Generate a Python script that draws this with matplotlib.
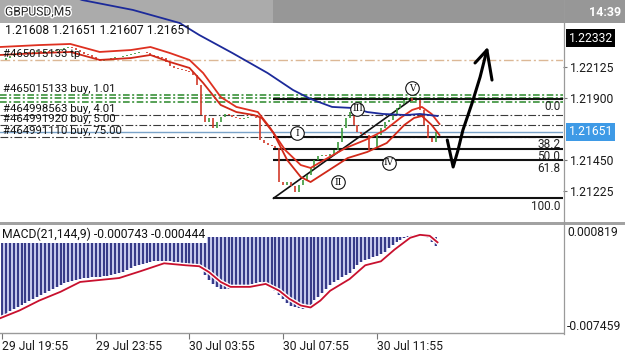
import matplotlib
matplotlib.use("Agg")
import matplotlib.pyplot as plt
import matplotlib.patheffects as pe
from matplotlib.patches import Rectangle
from matplotlib.lines import Line2D

plt.rcParams['font.family'] = ['Roboto', 'DejaVu Sans']

# ---------------- data ----------------
symbol = "GBPUSD,M5"
clock = "14:39"
ohlc_text = "1.21608 1.21651 1.21607 1.21651"

# M5 bar index counted from 29 Jul 19:55 (one candle drawn every 2 bars)
candle_bars = list(range(0, 224, 2))
closes = [1.22174, 1.22188, 1.22203, 1.22217, 1.22224, 1.22224, 1.22232, 1.22224,
          1.22232, 1.22239, 1.22232, 1.22239, 1.22232, 1.22239, 1.22246, 1.22253,
          1.22261, 1.22268, 1.22261, 1.22246, 1.22232, 1.22217, 1.22210, 1.22195,
          1.22181, 1.22166, 1.22174, 1.22181, 1.22188, 1.22195, 1.22195, 1.22203,
          1.22210, 1.22217, 1.22224, 1.22232, 1.22232, 1.22224, 1.22210, 1.22203,
          1.22195, 1.22188, 1.22159, 1.22130, 1.22116, 1.22108, 1.22101, 1.22094,
          1.22087, 1.22065, 1.21992, 1.21774, 1.21724, 1.21753, 1.21680, 1.21724,
          1.21760, 1.21782, 1.21774, 1.21760, 1.21753, 1.21745, 1.21753, 1.21760,
          1.21760, 1.21753, 1.21593, 1.21571, 1.21557, 1.21549, 1.21535, 1.21288,
          1.21266, 1.21288, 1.21259, 1.21215, 1.21266, 1.21303, 1.21339, 1.21390,
          1.21448, 1.21477, 1.21484, 1.21477, 1.21491, 1.21520, 1.21578, 1.21680,
          1.21753, 1.21796, 1.21702, 1.21651, 1.21636, 1.21629, 1.21520, 1.21535,
          1.21629, 1.21680, 1.21724, 1.21738, 1.21774, 1.21825, 1.21854, 1.21883,
          1.21898, 1.21876, 1.21883, 1.21811, 1.21702, 1.21607, 1.21578, 1.21651]

upper_bars = [-1, 19, 35, 50, 66, 76, 86, 96, 103, 112, 120, 131, 137, 145, 153, 158,
              165, 176, 186, 196, 204, 210, 215, 220, 224]
upper_band = [1.22268, 1.22282, 1.22290, 1.22232, 1.22246, 1.22268, 1.22224, 1.22174,
              1.22079, 1.21905, 1.21833, 1.21796, 1.21687, 1.21520, 1.21411, 1.21390,
              1.21448, 1.21535, 1.21593, 1.21664, 1.21753, 1.21811, 1.21833, 1.21782,
              1.21709]
lower_bars = [-1, 19, 35, 50, 66, 76, 86, 96, 103, 112, 120, 129, 133, 139, 146, 153,
              158, 166, 177, 187, 197, 206, 211, 215, 220, 224]
lower_band = [1.22210, 1.22224, 1.22232, 1.22174, 1.22188, 1.22210, 1.22159, 1.22116,
              1.22007, 1.21847, 1.21796, 1.21774, 1.21753, 1.21644, 1.21448, 1.21324,
              1.21288, 1.21361, 1.21462, 1.21506, 1.21571, 1.21702, 1.21753, 1.21767,
              1.21702, 1.21629]

ma_bars = [25, 41, 67, 91, 101, 118, 136, 149, 158, 169, 180, 187, 195, 207, 214, 223]
ma_vals = [1.22696, 1.22609, 1.22537, 1.22442, 1.22355, 1.22224, 1.22079, 1.21956,
           1.21891, 1.21833, 1.21825, 1.21796, 1.21782, 1.21774, 1.21782, 1.21767]

price_ticks = [1.22125, 1.21900, 1.21450, 1.21225]
bid_price = 1.21651
target_price = 1.22332

# Fibonacci retracement
fib_low_bar, fib_low = 139, 1.21170
fib_high_bar, fib_high = 210, 1.21890
fib_levels = [0.0, 38.2, 50.0, 61.8, 100.0, 161.8, 200.0]
fib_texts = ["0.0", "38.2", "50.0", "61.8", "100.0", "161.8", "200"]

# order lines
tp_price = 1.22174
green_levels = [1.21920, 1.21896, 1.21872]
order_levels = [1.21774, 1.21702, 1.21615]
order_labels = ["#465015133 tp", "#465015133 buy, 1.01", "#464998563 buy, 4.01",
                "#464991920 buy, 5.00", "#464991110 buy, 75.00"]
order_label_prices = [tp_price, green_levels[0], order_levels[0], order_levels[1],
                      order_levels[2]]

# Elliott wave labels
wave_labels = ["I", "II", "III", "IV", "V"]
wave_bars = [151, 172, 182, 198, 210]
wave_prices = [1.21643, 1.21288, 1.21818, 1.21426, 1.21970]

# hand drawn arrow
arrow_bars = [228, 231, 233.5, 236, 240.7, 244.8, 248.3]
arrow_prices = [1.21593, 1.21397, 1.21520, 1.21665, 1.21861, 1.22050, 1.22246]
head_bars = [242.2, 248.3, 250.9]
head_prices = [1.22152, 1.22246, 1.22028]

# MACD
macd_title = "MACD(21,144,9) -0.000743 -0.000444"
macd_main = [-0.006168, -0.006016, -0.005788, -0.005636, -0.005484, -0.005256, -0.005105,
             -0.004953, -0.004801, -0.004649, -0.004497, -0.004345, -0.004193, -0.004042,
             -0.003890, -0.003738, -0.003586, -0.003510, -0.003434, -0.003358, -0.003282,
             -0.003206, -0.003206, -0.003130, -0.003130, -0.003130, -0.003054, -0.003054,
             -0.002978, -0.002902, -0.002826, -0.002750, -0.002598, -0.002446, -0.002295,
             -0.002219, -0.002143, -0.002067, -0.001991, -0.001915, -0.001915, -0.001915,
             -0.001915, -0.001915, -0.001991, -0.001991, -0.002067, -0.002067, -0.002143,
             -0.002219, -0.002295, -0.002522, -0.002978, -0.003358, -0.003662, -0.003890,
             -0.004042, -0.004042, -0.004042, -0.004042, -0.003966, -0.003890, -0.003814,
             -0.003738, -0.003662, -0.003586, -0.003510, -0.003586, -0.003738, -0.003966,
             -0.004193, -0.004497, -0.004801, -0.005105, -0.005332, -0.005484, -0.005560,
             -0.005636, -0.005560, -0.005256, -0.004877, -0.004649, -0.004345, -0.004042,
             -0.003738, -0.003510, -0.003358, -0.003130, -0.002978, -0.002826, -0.002522,
             -0.002219, -0.001991, -0.001839, -0.001763, -0.001611, -0.001535, -0.001383,
             -0.001155, -0.000852, -0.000624, -0.000396, -0.000244, -0.000092, 0.000060,
             0.000136, 0.000211, 0.000211, 0.000136, -0.000092, -0.000396, -0.000743]
sig_bars = [-1, 9, 19, 30, 40, 50, 60, 71, 83, 94, 101, 106, 112, 117, 127, 135, 142,
            147, 153, 158, 163, 168, 178, 186, 194, 201, 209, 214, 219, 223]
sig_vals = [-0.006319, -0.005712, -0.004952, -0.004269, -0.003510, -0.003358, -0.003206,
            -0.002674, -0.002067, -0.002219, -0.002295, -0.002750, -0.003510, -0.003890,
            -0.003890, -0.003662, -0.004193, -0.004801, -0.005332, -0.005484, -0.004953,
            -0.004193, -0.003282, -0.002219, -0.001915, -0.001004, -0.000092, 0.000136,
            0.000060, -0.000444]
macd_max, macd_min = 0.000819, -0.007459

time_ticks = [0, 48, 96, 144, 192]
time_labels = ["29 Jul 19:55", "29 Jul 23:55", "30 Jul 03:55", "30 Jul 07:55",
               "30 Jul 11:55"]

# ---------------- figure ----------------
W, H = 625, 352
fig = plt.figure(figsize=(W / 100, H / 100), dpi=100)
fig.patch.set_facecolor("white")

XMIN, XMAX = -1.024, 287.25
ax = fig.add_axes([0, 1 - 221 / H, 563 / W, 221 / H])
ax.set_xlim(XMIN, XMAX)
ax.set_ylim(1.21005, 1.226091)
for s in ax.spines.values():
    s.set_visible(False)
ax.set_xticks([])
ax.yaxis.tick_right()
ax.set_yticks(price_ticks)
ax.set_yticklabels([f"{p:.5f}" for p in price_ticks])
ax.tick_params(axis="y", length=3, width=0.8, color="#777777", pad=2,
               labelsize=8.7, labelcolor="#1a1a1a")

# toolbar band (inside axes so the MA line can draw over it)
ax.add_patch(Rectangle((0, 1 - 23 / 221), 273 / 563, 23 / 221, transform=ax.transAxes,
                       facecolor="#ababab", edgecolor="none", zorder=0.5))
ax.add_patch(Rectangle((273 / 563, 1 - 23 / 221), 1 - 273 / 563, 23 / 221,
                       transform=ax.transAxes, facecolor="#979797", edgecolor="none",
                       zorder=0.5))
fig.add_artist(Rectangle((563 / W, 1 - 23 / H), 62 / W, 23 / H, transform=fig.transFigure,
                         facecolor="#979797", edgecolor="none", zorder=0.5))

dash = (0, (7, 2, 1.5, 2))
# order lines
ax.axhline(tp_price, color="#dcb896", lw=1.0, linestyle=dash, zorder=1)
for g in green_levels:
    ax.axhline(g, color="#3a913a", lw=1.2, linestyle=(0, (4, 1.5, 1.2, 1.5)), zorder=1)
for o in order_levels:
    ax.axhline(o, color="#3a3a3a", lw=0.8, linestyle=dash, zorder=1)
ax.axhline(bid_price, color="#7aa3c8", lw=1.0, zorder=1)
for txt, p in zip(order_labels, order_label_prices):
    ax.annotate(txt, xy=(XMIN, p), xytext=(2, 0.5), textcoords="offset points",
                fontsize=8.2, color="#111111", va="bottom", ha="left", zorder=4)

# fibonacci
fib_range = fib_high - fib_low
for lv, t in zip(fib_levels, fib_texts):
    p = fib_high - lv / 100.0 * fib_range
    if lv != 200.0:
        ax.hlines(p, fib_low_bar, XMAX, color="#111111", lw=1.5, zorder=2)
    ax.annotate(t, xy=(XMAX, p), xytext=(-2, -1), textcoords="offset points",
                fontsize=8.5, color="#222222", ha="right", va="top",
                annotation_clip=False, zorder=4)
ax.plot([fib_low_bar, fib_high_bar], [fib_low, fib_high], color="#111111", lw=1.2,
        zorder=2)

# candles
opens = [closes[0]] + closes[:-1]
ccols = ["#3c9a3c" if c >= o else "#d23a2a" for o, c in zip(opens, closes)]
ax.vlines(candle_bars, opens, closes, colors=ccols, lw=1.2, zorder=2.5)

# envelope & moving average
ax.plot(upper_bars, upper_band, color="#de3020", lw=1.3, zorder=3)
ax.plot(lower_bars, lower_band, color="#d02818", lw=1.3, zorder=3)
ax.plot(ma_bars, ma_vals, color="#1c2a9a", lw=1.3, zorder=3.2)

# wave labels
ax.scatter(wave_bars, wave_prices, s=95, facecolor="white", edgecolor="#111111",
           linewidth=0.8, zorder=6)
for lb, b, p in zip(wave_labels, wave_bars, wave_prices):
    ax.text(b, p, lb, fontsize=6.5, family=["DejaVu Serif"], ha="center", va="center",
            color="#111111", zorder=7)

# hand drawn arrow
ax.plot(arrow_bars, arrow_prices, color="black", lw=2.2, solid_capstyle="round",
        solid_joinstyle="round", zorder=8)
ax.plot(head_bars, head_prices, color="black", lw=2.2, solid_capstyle="round",
        solid_joinstyle="round", zorder=8)

# boxed price labels
ax.annotate(f"{target_price:.5f}", xy=(1, target_price), xycoords=("axes fraction", "data"),
            xytext=(4, 0), textcoords="offset points", fontsize=8.7, color="white",
            va="center", ha="left", annotation_clip=False,
            bbox=dict(boxstyle="square,pad=0.2", fc="black", ec="none"), zorder=9)
ax.annotate(f"{bid_price:.5f}", xy=(1, bid_price), xycoords=("axes fraction", "data"),
            xytext=(4, 0), textcoords="offset points", fontsize=8.7, color="white",
            va="center", ha="left", annotation_clip=False,
            bbox=dict(boxstyle="square,pad=0.2", fc="#3e9ae6", ec="none"), zorder=9)

# ---------------- MACD panel ----------------
axm = fig.add_axes([0, 1 - 333 / H, 563 / W, 107 / H])
axm.set_xlim(XMIN, XMAX)
axm.set_ylim(macd_min, macd_max)
for k, s in axm.spines.items():
    s.set_visible(k == "bottom")
axm.spines["bottom"].set_color("#9a9a9a")
axm.spines["bottom"].set_linewidth(1.0)
axm.fill_between(candle_bars, 0, macd_main, step="mid", color="#c4c7ea", lw=0, zorder=1)
axm.vlines(candle_bars, 0, macd_main, color="#2a2d7e", lw=1.3, zorder=2)
axm.plot(sig_bars, sig_vals, color="#c8102e", lw=1.3, zorder=3,
         path_effects=[pe.Stroke(linewidth=3.2, foreground="white"), pe.Normal()])
axm.text(0.004, 1 - 8 / 107, macd_title, transform=axm.transAxes, fontsize=8.7,
         color="#111111", va="center", ha="left", zorder=5,
         bbox=dict(boxstyle="square,pad=0.15", fc="white", ec="none"))
axm.set_xticks(time_ticks)
axm.set_xticklabels(time_labels)
for t in axm.get_xticklabels():
    t.set_ha("left")
axm.tick_params(axis="x", length=4, width=0.8, color="#777777", pad=1, labelsize=8.7,
                labelcolor="#1a1a1a")
axm.yaxis.tick_right()
axm.set_yticks([macd_max, macd_min])
axm.set_yticklabels([f"{macd_max:.6f}", f"{macd_min:.6f}"])
axm.tick_params(axis="y", length=0, pad=3, labelsize=8.7, labelcolor="#1a1a1a")
ylabs = axm.get_yticklabels()
ylabs[0].set_va("top")
ylabs[1].set_va("bottom")

# separators
fig.add_artist(Rectangle((0, 1 - 224.5 / H), 1, 3 / H, transform=fig.transFigure,
                         facecolor="#a2a2a2", edgecolor="none", zorder=2))
fig.add_artist(Line2D([564 / W, 564 / W], [1 - 334 / H, 1], transform=fig.transFigure,
                      color="#9a9a9a", lw=0.9, zorder=2))

# header texts
fig.text(5 / W, 1 - 12 / H, symbol, fontsize=8.7, color="#222222", va="center",
         ha="left", zorder=5, path_effects=[pe.withStroke(linewidth=2, foreground="white")])
fig.text(621 / W, 1 - 12 / H, clock, fontsize=9, color="white", va="center", ha="right",
         weight="bold", zorder=5)
fig.text(5 / W, 1 - 31 / H, ohlc_text, fontsize=8.7, color="#111111", va="center",
         ha="left", zorder=5)

fig.savefig("out.png", dpi=100, facecolor="white")
